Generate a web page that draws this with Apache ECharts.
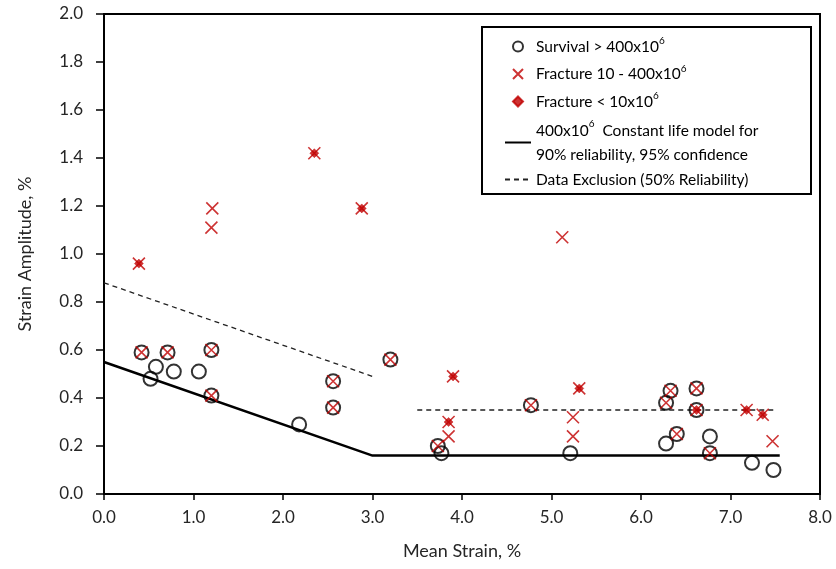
<!DOCTYPE html>
<html>
<head>
<meta charset="utf-8">
<script src="https://cdn.jsdelivr.net/npm/echarts@6/dist/echarts.min.js"></script>
<style>html,body{margin:0;padding:0;background:#fff}#c{width:836px;height:569px}</style>
</head>
<body>
<div id="c"></div>
<script>
// ---- data (mean strain %, strain amplitude %) ----
const survival = [
  [0.42,0.59],[0.71,0.59],[1.20,0.60],[0.58,0.53],[0.52,0.48],[0.78,0.51],[1.06,0.51],
  [1.20,0.41],[2.18,0.29],[2.56,0.47],[2.56,0.36],[3.20,0.56],[3.73,0.20],[3.77,0.17],
  [4.77,0.37],[5.21,0.17],[6.33,0.43],[6.28,0.38],[6.62,0.44],[6.62,0.35],[6.40,0.25],
  [6.28,0.21],[6.77,0.24],[6.77,0.17],[7.24,0.13],[7.48,0.10]
];
const fracture10to400 = [
  [0.42,0.59],[0.71,0.59],[1.20,0.60],[1.20,0.41],[2.56,0.47],[2.56,0.36],[3.20,0.56],
  [3.73,0.20],[3.85,0.24],[4.77,0.37],[5.24,0.32],[5.24,0.24],[6.33,0.43],[6.28,0.38],
  [6.62,0.44],[6.40,0.25],[6.77,0.17],[7.47,0.22],[1.21,1.19],[1.20,1.11],[5.12,1.07]
];
const fractureBelow10 = [
  [0.39,0.96],[2.35,1.42],[2.88,1.19],[3.90,0.49],[3.85,0.30],[5.31,0.44],[6.62,0.35],
  [7.18,0.35],[7.36,0.33]
];
const constantLifeModel = [[0,0.55],[3.0,0.16],[7.55,0.16]];
const exclusionLow = [[0,0.88],[3.0,0.49]];
const exclusionHigh = [[3.5,0.35],[7.5,0.35]];
const xTicks = [0,1,2,3,4,5,6,7,8];
const yTicks = [0,0.2,0.4,0.6,0.8,1.0,1.2,1.4,1.6,1.8,2.0];

const names = {
  surv: 'Survival > 400x10^6',
  frac: 'Fracture 10 - 400x10^6',
  fast: 'Fracture < 10x10^6',
  model: '400x10^6 Constant life model',
  excl: 'Data Exclusion (50% Reliability)'
};
const legendText = {};
legendText[names.surv] = '{t|Survival > 400x10}{s|6}';
legendText[names.frac] = '{t|Fracture 10 - 400x10}{s|6}';
legendText[names.fast] = '{t|Fracture < 10x10}{s|6}';
legendText[names.model] = '{a|400x10}{s|6}{a|  Constant life model for}\n{a|90% reliability, 95% confidence}';
legendText[names.excl] = '{t|Data Exclusion (50% Reliability)}';

const RED = '#c00000';
const FONT = 'Lato, "Open Sans", sans-serif';
const crossPath = 'path://M0,0L10,10M10,0L0,10';
const diamondPath = 'path://M0,-5L5,0L0,5L-5,0Z';
const hidden = {color: 'rgba(0,0,0,0)', borderColor: 'rgba(0,0,0,0)', borderWidth: 0};

const chart = echarts.init(document.getElementById('c'), null, {renderer: 'canvas'});
chart.setOption({
  animation: false,
  backgroundColor: '#fff',
  textStyle: {fontFamily: FONT},
  grid: {left: 104, right: 16, top: 14, bottom: 75, show: true, borderColor: '#000', borderWidth: 2, containLabel: false},
  xAxis: {
    type: 'value', min: xTicks[0], max: xTicks[xTicks.length - 1], interval: 1,
    name: 'Mean Strain, %', nameLocation: 'middle', nameGap: 48,
    nameTextStyle: {fontSize: 18, color: '#262626', fontFamily: FONT},
    axisLine: {show: true, onZero: false, lineStyle: {color: '#000', width: 2}},
    axisTick: {show: true, inside: false, length: 6, lineStyle: {color: '#000', width: 1.5}},
    axisLabel: {fontSize: 17, color: '#262626', margin: 15, formatter: v => v.toFixed(1), fontFamily: FONT},
    splitLine: {show: false}
  },
  yAxis: {
    type: 'value', min: yTicks[0], max: yTicks[yTicks.length - 1], interval: 0.2,
    name: 'Strain Amplitude, %', nameLocation: 'middle', nameGap: 70,
    nameTextStyle: {fontSize: 18, color: '#262626', fontFamily: FONT},
    axisLine: {show: true, onZero: false, lineStyle: {color: '#000', width: 2}},
    axisTick: {show: true, inside: false, length: 8, lineStyle: {color: '#000', width: 1.5}},
    axisLabel: {fontSize: 17, color: '#262626', margin: 21, formatter: v => v.toFixed(1), fontFamily: FONT},
    splitLine: {show: false}
  },
  graphic: [{
    type: 'rect', left: 481, top: 26, z: 3,
    shape: {width: 329, height: 167},
    style: {fill: '#fff', stroke: '#000', lineWidth: 2}
  }],
  legend: {
    orient: 'vertical', left: 499, top: 31, z: 10,
    itemWidth: 26, itemHeight: 10, itemGap: 9,
    data: [
      {name: names.surv},
      {name: names.frac},
      {name: names.fast, icon: diamondPath},
      {name: names.model, itemStyle: hidden},
      {name: names.excl, itemStyle: hidden}
    ],
    formatter: n => legendText[n],
    textStyle: {
      color: '#000', fontFamily: FONT,
      rich: {
        t: {fontSize: 15.5, lineHeight: 21, color: '#000', fontFamily: FONT},
        s: {fontSize: 10, lineHeight: 10, verticalAlign: 'top', color: '#000', fontFamily: FONT, padding: [0, 0, 8, 0]},
        a: {fontSize: 15.5, lineHeight: 24, color: '#000', fontFamily: FONT}
      }
    }
  },
  series: [
    {
      name: names.surv, type: 'scatter', data: survival, symbol: 'circle', symbolSize: 14, z: 3,
      itemStyle: {color: 'rgba(255,255,255,0)', borderColor: '#000', borderWidth: 2}
    },
    {
      name: names.frac, type: 'scatter', data: fracture10to400, symbol: crossPath, symbolSize: 12, z: 4,
      itemStyle: {color: 'rgba(255,255,255,0)', borderColor: RED, borderWidth: 1.6}
    },
    {
      name: 'fractureBelow10Cross', type: 'scatter', data: fractureBelow10, symbol: crossPath, symbolSize: 12, z: 4,
      itemStyle: {color: 'rgba(255,255,255,0)', borderColor: RED, borderWidth: 1.6}
    },
    {
      name: names.fast, type: 'scatter', data: fractureBelow10, symbol: diamondPath, symbolSize: 9, z: 5,
      itemStyle: {color: RED, borderColor: RED, borderWidth: 0.5}
    },
    {
      name: names.model, type: 'line', data: constantLifeModel, showSymbol: false, symbol: 'none', z: 2,
      itemStyle: hidden,
      lineStyle: {color: '#000', width: 2.5}
    },
    {
      name: names.excl, type: 'line', data: exclusionLow, showSymbol: false, symbol: 'none', z: 2,
      itemStyle: hidden,
      lineStyle: {color: '#222', width: 1.3, type: [5, 4]}
    },
    {
      name: names.excl, type: 'line', data: exclusionHigh, showSymbol: false, symbol: 'none', z: 2,
      itemStyle: hidden,
      lineStyle: {color: '#222', width: 1.3, type: [5, 4]}
    }
  ]
});
</script>
</body>
</html>
